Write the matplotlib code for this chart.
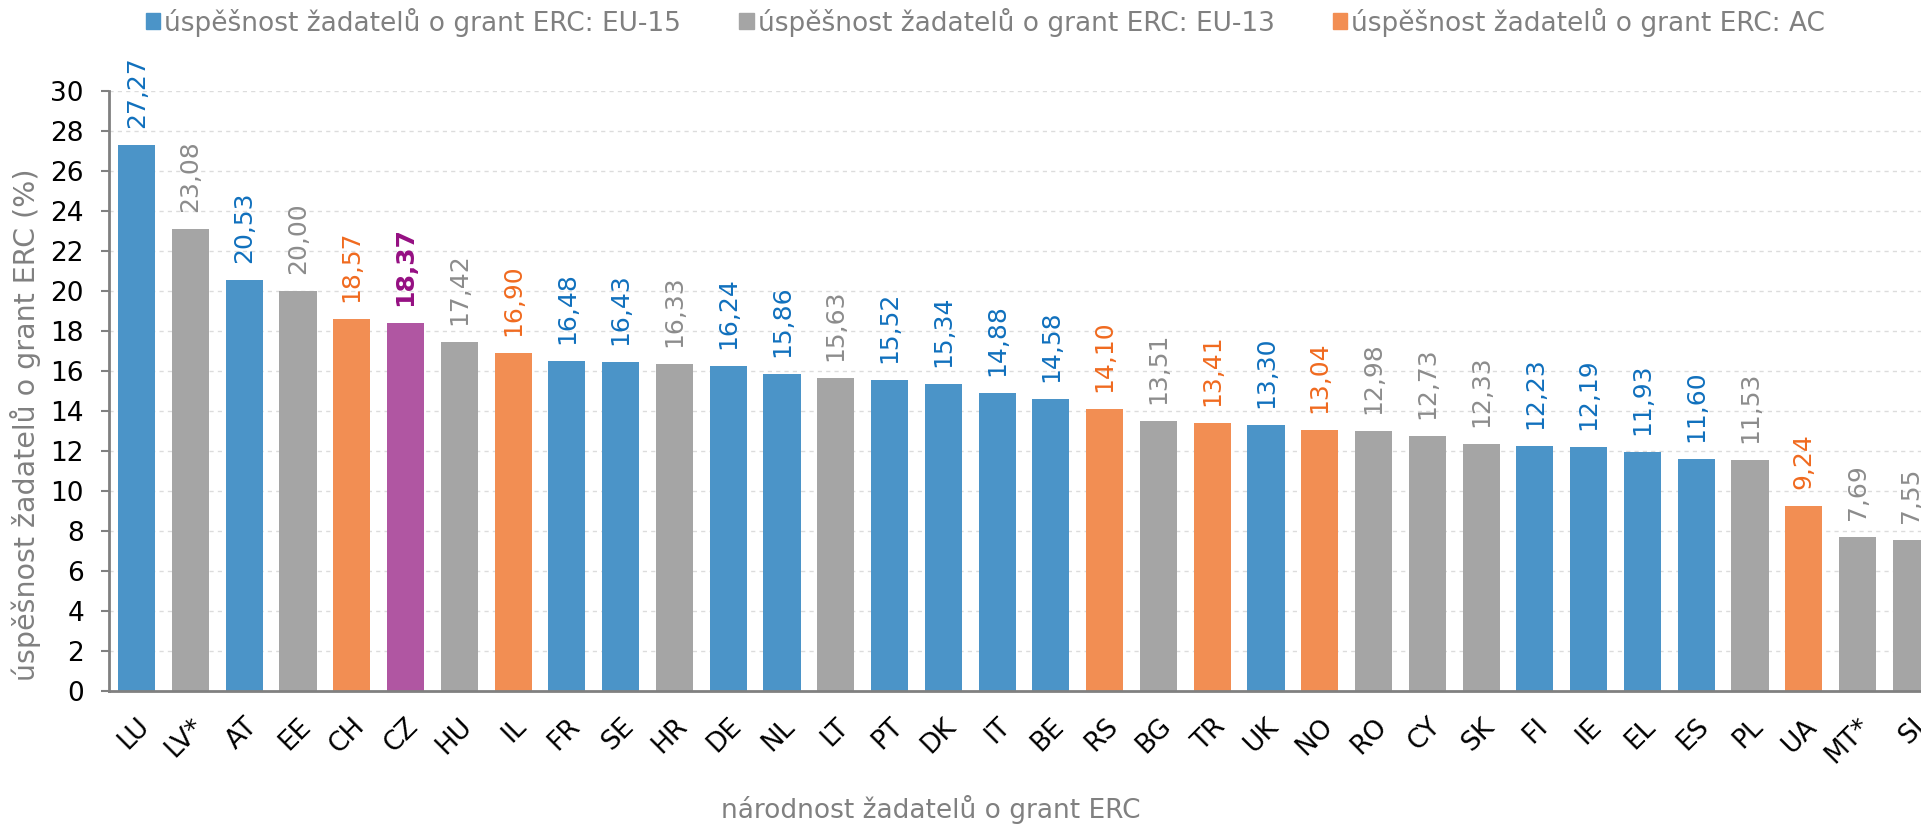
import matplotlib.pyplot as plt
from matplotlib.patches import Patch

countries = ['LU', 'LV*', 'AT', 'EE', 'CH', 'CZ', 'HU', 'IL', 'FR', 'SE', 'HR', 'DE',
             'NL', 'LT', 'PT', 'DK', 'IT', 'BE', 'RS', 'BG', 'TR', 'UK', 'NO', 'RO',
             'CY', 'SK', 'FI', 'IE', 'EL', 'ES', 'PL', 'UA', 'MT*', 'SI']
values = [27.27, 23.08, 20.53, 20.00, 18.57, 18.37, 17.42, 16.90, 16.48, 16.43, 16.33, 16.24,
          15.86, 15.63, 15.52, 15.34, 14.88, 14.58, 14.10, 13.51, 13.41, 13.30, 13.04, 12.98,
          12.73, 12.33, 12.23, 12.19, 11.93, 11.60, 11.53, 9.24, 7.69, 7.55]
groups = ['EU15', 'EU13', 'EU15', 'EU13', 'AC', 'CZ', 'EU13', 'AC', 'EU15', 'EU15', 'EU13', 'EU15',
          'EU15', 'EU13', 'EU15', 'EU15', 'EU15', 'EU15', 'AC', 'EU13', 'AC', 'EU15', 'AC', 'EU13',
          'EU13', 'EU13', 'EU15', 'EU15', 'EU15', 'EU15', 'EU13', 'AC', 'EU13', 'EU13']
legend_labels = ['úspěšnost žadatelů o grant ERC: EU-15',
                 'úspěšnost žadatelů o grant ERC: EU-13',
                 'úspěšnost žadatelů o grant ERC: AC']

bar_col = {'EU15': '#4b94c8', 'EU13': '#a5a5a5', 'AC': '#f28e53', 'CZ': '#b056a2'}
txt_col = {'EU15': '#1070bd', 'EU13': '#8c8c8c', 'AC': '#f06a1f', 'CZ': '#950f82'}

plt.rcParams['font.family'] = 'DejaVu Sans'
fig = plt.figure(figsize=(19.21, 8.24), dpi=100)
ax = fig.add_axes([0.05674, 0.1614, 0.9526, 0.7285])

xs = list(range(len(countries)))
ax.bar(xs, values, width=0.69, color=[bar_col[g] for g in groups], zorder=2)

for x, v, g in zip(xs, values, groups):
    ax.text(x, v + 0.85, f'{v:.2f}'.replace('.', ','), rotation=90, ha='center', va='bottom',
            fontsize=18, color=txt_col[g], fontweight='bold' if g == 'CZ' else 'normal')

ax.set_xlim(-0.514, len(countries) - 0.486)
ax.set_ylim(0, 30)
ax.set_yticks(range(0, 31, 2))
ax.set_xticks(xs)
ax.set_xticklabels(countries, rotation=45, ha='right', rotation_mode='anchor', fontsize=19)
ax.tick_params(axis='x', length=0, pad=16)
ax.tick_params(axis='y', length=6, width=1.5, color='#808080', labelsize=19, pad=12)
ax.yaxis.grid(True, linestyle=(0, (3, 3)), color='#dcdcdc', linewidth=1, zorder=0)
ax.set_axisbelow(True)

for s in ['top', 'right']:
    ax.spines[s].set_visible(False)
for s in ['left', 'bottom']:
    ax.spines[s].set_color('#808080')
    ax.spines[s].set_linewidth(2)

ax.set_ylabel('úspěšnost žadatelů o grant ERC (%)', fontsize=20.5, color='#808080', va='center')
ax.yaxis.set_label_coords(-0.0455, 0.443)
fig.text(0.4846, 0.017, 'národnost žadatelů o grant ERC', ha='center', va='center',
         fontsize=19, color='#808080')

handles = [Patch(color=bar_col[k]) for k in ['EU15', 'EU13', 'AC']]
fig.legend(handles, legend_labels, loc='center left', bbox_to_anchor=(0.069, 0.973), ncol=3,
           frameon=False, fontsize=19, labelcolor='#808080', handlelength=0.55,
           handleheight=0.55, handletextpad=0.15, columnspacing=2.2, borderpad=0)

fig.savefig('out.png', dpi=100)
